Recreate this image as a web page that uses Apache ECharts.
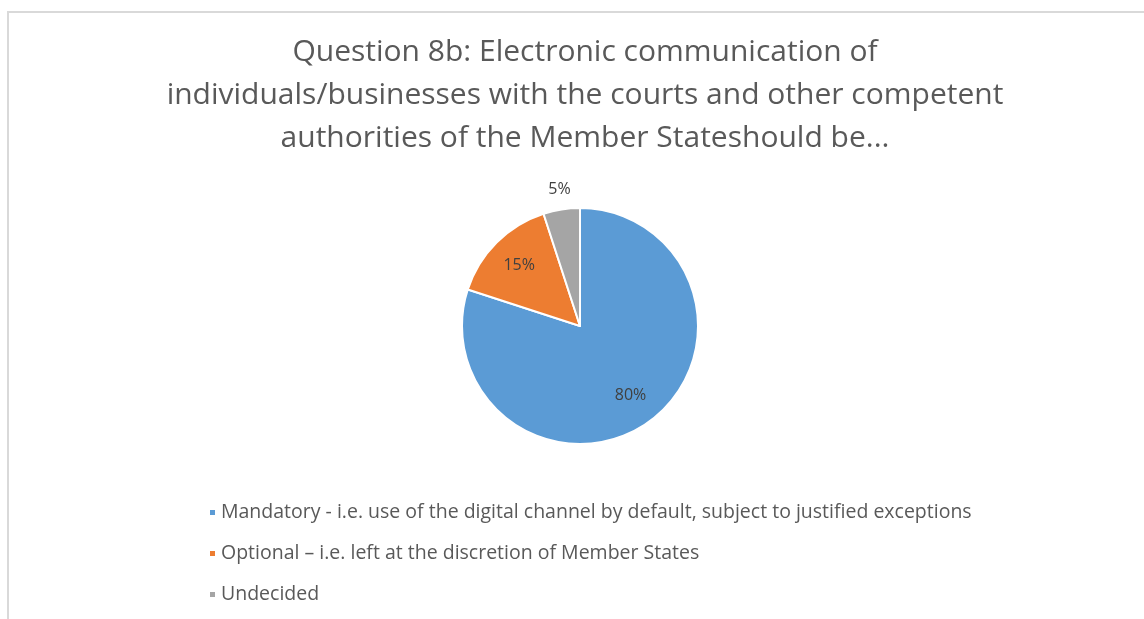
<!DOCTYPE html>
<html>
<head>
<meta charset="utf-8">
<script src="https://cdn.jsdelivr.net/npm/echarts@6/dist/echarts.min.js"></script>
<style>
html,body{margin:0;padding:0;background:#fff;width:1144px;height:619px;overflow:hidden;}
#frame{position:absolute;left:7px;top:11px;width:1150px;height:620px;border-left:2px solid #d9d9d9;border-top:2px solid #d9d9d9;box-sizing:border-box;}
#chart{position:absolute;left:0;top:0;width:1144px;height:619px;}
</style>
</head>
<body>
<div id="frame"></div>
<div id="chart"></div>
<script>
const titleText = 'Question 8b: Electronic communication of\nindividuals/businesses with the courts and other competent\nauthorities of the Member Stateshould be...';
const categories = [
  'Mandatory - i.e. use of the digital channel by default, subject to justified exceptions',
  'Optional – i.e. left at the discretion of Member States',
  'Undecided'
];
const values = [80, 15, 5];
const colors = ['#5B9BD5', '#ED7D31', '#A5A5A5'];

const chart = echarts.init(document.getElementById('chart'));
const mainData = categories.map((c, i) => ({
  name: c, value: values[i],
  itemStyle: {color: colors[i]},
  label: i === 2 ? {show: true, position: 'outside', offset: [16, -8]} : {show: false},
  labelLine: {show: false, length: 12, length2: 0}
}));
const labelData = categories.map((c, i) => ({
  name: c, value: values[i],
  label: {show: i !== 2}
}));
chart.setOption({
  animation: false,
  color: colors,
  title: {
    text: titleText,
    left: 580, top: 26, textAlign: 'center',
    textStyle: {fontFamily: 'Open Sans', fontSize: 30, fontWeight: 'normal', color: '#595959', lineHeight: 43}
  },
  legend: {
    orient: 'vertical', left: 203, top: 496,
    itemWidth: 7, itemHeight: 7, itemGap: 18, icon: 'rect',
    data: categories,
    textStyle: {fontFamily: 'Open Sans', fontSize: 19.5, color: '#595959', lineHeight: 23}
  },
  series: [
    {
      type: 'pie', center: [580, 326], radius: [0, 118],
      startAngle: 90, clockwise: true,
      itemStyle: {borderColor: '#fff', borderWidth: 2},
      label: {formatter: '{d}%', fontFamily: 'Open Sans', fontSize: 16, color: '#404040'},
      emphasis: {disabled: true},
      data: mainData
    },
    {
      type: 'pie', center: [580, 326], radius: [48, 118],
      startAngle: 90, clockwise: true, silent: true,
      itemStyle: {color: 'rgba(0,0,0,0)'},
      label: {position: 'inside', formatter: '{d}%', fontFamily: 'Open Sans', fontSize: 16, color: '#404040'},
      labelLine: {show: false},
      emphasis: {disabled: true},
      data: labelData
    }
  ]
});
</script>
</body>
</html>
